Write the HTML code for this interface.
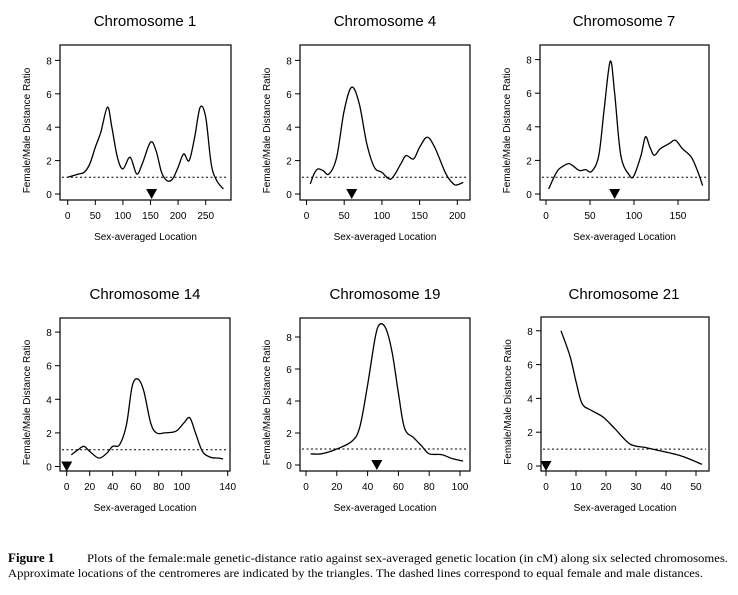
<!DOCTYPE html>
<html><head><meta charset="utf-8"><style>
html,body{margin:0;padding:0;background:#fff;}
svg{display:block;font-family:"Liberation Sans",Arial,sans-serif;}
</style></head><body>
<svg id="fig" width="738" height="595" viewBox="0 0 738 595">
<text x="8" y="562" font-family="Liberation Serif,serif" font-size="13" font-weight="bold">Figure 1</text>
<text x="87" y="562" font-family="Liberation Serif,serif" font-size="12" textLength="641" lengthAdjust="spacingAndGlyphs">Plots of the female:male genetic-distance ratio against sex-averaged genetic location (in cM) along six selected chromosomes.</text>
<text x="8" y="577" font-family="Liberation Serif,serif" font-size="12" textLength="695" lengthAdjust="spacingAndGlyphs">Approximate locations of the centromeres are indicated by the triangles. The dashed lines correspond to equal female and male distances.</text>
</svg>
<script>
const titles=["Chromosome 1","Chromosome 4","Chromosome 7","Chromosome 14","Chromosome 19","Chromosome 21"];
const xs1=[0,10,20,30,40,50,60,72,80,90,100,113,125,135,150,160,170,180,190,200,210,220,230,240,250,260,270,282];
const ys1=[1.0,1.1,1.2,1.3,1.8,2.8,3.7,5.2,4.0,2.2,1.5,2.2,1.2,1.8,3.1,2.6,1.3,0.8,0.9,1.6,2.4,2.0,3.4,5.2,4.6,1.8,0.8,0.3];
const xs4=[5,10,15,22,30,40,50,60,70,80,90,100,112,125,132,142,150,160,170,185,195,200,208];
const ys4=[0.6,1.2,1.5,1.4,1.2,2.2,5.0,6.4,5.4,3.0,1.6,1.3,0.9,1.8,2.3,2.1,2.8,3.4,2.8,1.2,0.6,0.55,0.7];
const xs7=[3,10,15,25,30,38,45,52,60,66,73,78,85,95,100,108,113,118,123,130,140,147,155,165,172,178];
const ys7=[0.3,1.1,1.5,1.8,1.7,1.4,1.45,1.35,2.3,5.0,7.9,6.0,2.3,1.1,1.1,2.3,3.4,2.8,2.3,2.7,3.0,3.2,2.7,2.2,1.4,0.5];
const xs14=[4,10,15,20,28,35,40,46,52,57,62,67,73,78,85,95,102,107,112,118,125,132,136];
const ys14=[0.7,1.0,1.2,0.9,0.5,0.8,1.2,1.3,2.5,4.8,5.2,4.5,2.6,2.0,2.0,2.1,2.6,2.9,2.0,0.9,0.55,0.5,0.45];
const xs19=[3,10,20,30,35,40,45,48,52,56,60,64,70,75,80,88,95,102];
const ys19=[0.7,0.7,1.0,1.5,2.4,5.0,8.0,8.8,8.5,7.0,4.5,2.3,1.7,1.2,0.7,0.65,0.4,0.25];
const xs21=[5,8,10,12,15,19,23,28,33,38,45,52];
const ys21=[8.0,6.5,5.0,3.7,3.3,2.9,2.2,1.3,1.1,0.9,0.6,0.1];
const xTicks=[[0,50,100,150,200,250],[0,50,100,150,200],[0,50,100,150],[0,20,40,60,80,100,140],[0,20,40,60,80,100],[0,10,20,30,40,50]];
const yTicks=[0,2,4,6,8];
const centromeres=[152,60,78,0,46,0];
const allX=[xs1,xs4,xs7,xs14,xs19,xs21], allY=[ys1,ys4,ys7,ys14,ys19,ys21];
const L=[
 {bx:60,by:45,bw:171,bh:155,x0:67.7,xs:0.552,y0:194,ys:16.7,tx:145,ty:26},
 {bx:300,by:45,bw:170,bh:155,x0:306.5,xs:0.754,y0:194,ys:16.7,tx:385,ty:26},
 {bx:540,by:45,bw:169,bh:155,x0:546,xs:0.88,y0:194,ys:16.8,tx:624,ty:26},
 {bx:60,by:318,bw:170,bh:153,x0:66.7,xs:1.15,y0:466.5,ys:16.8,tx:145,ty:299},
 {bx:300,by:318,bw:170,bh:153,x0:306,xs:1.54,y0:465,ys:16.0,tx:385,ty:299},
 {bx:541,by:317,bw:168,bh:154,x0:546,xs:3.0,y0:466,ys:16.9,tx:624,ty:299}];
const NS="http://www.w3.org/2000/svg",svg=document.getElementById('fig');
function mk(t,a,p){const e=document.createElementNS(NS,t);for(const k in a)e.setAttribute(k,a[k]);(p||svg).appendChild(e);return e;}
L.forEach((l,i)=>{
 const g=mk('g',{});
 
 
 const X=v=>l.x0+v*l.xs, Y=v=>l.y0-v*l.ys;
 const t=mk('text',{x:l.tx,y:l.ty,'text-anchor':'middle','font-size':15},g);t.textContent=titles[i];
 
 
 const b=mk('rect',{x:l.bx,y:l.by,width:l.bw,height:l.bh,fill:'none',stroke:'#000','stroke-width':1.2},g);
 
 
 yTicks.forEach(v=>{mk('line',{x1:l.bx-5,x2:l.bx,y1:Y(v),y2:Y(v),stroke:'#000'},g);
  const tt=mk('text',{x:l.bx-11,y:Y(v)+4,'text-anchor':'middle','font-size':10},g);tt.textContent=v;
  
  });
 xTicks[i].forEach(v=>{mk('line',{x1:X(v),x2:X(v),y1:l.by+l.bh,y2:l.by+l.bh+5,stroke:'#000'},g);
  const tt=mk('text',{x:X(v),y:l.by+l.bh+19,'text-anchor':'middle','font-size':10},g);tt.textContent=v;
  
  });
 const xl=mk('text',{x:l.bx+l.bw/2,y:l.by+l.bh+40,'text-anchor':'middle','font-size':10},g);xl.textContent='Sex-averaged Location';
 
 
 const cy=l.by+l.bh/2+8,cx=l.bx-30;
 const yl=mk('text',{x:cx,y:cy,'text-anchor':'middle','font-size':10,transform:`rotate(-90 ${cx} ${cy})`},g);yl.textContent='Female/Male Distance Ratio';
 
 
 const d=mk('line',{x1:l.bx+2,x2:l.bx+l.bw-3,y1:Y(1),y2:Y(1),stroke:'#000','stroke-width':1,'stroke-dasharray':'2,2.5'},g);
 
 
 const px=allX[i].map(X),py=allY[i].map(Y);
 let p=`M${px[0]},${py[0]}`;
 for(let k=0;k<px.length-1;k++){const a=Math.max(k-1,0),c=Math.min(k+2,px.length-1);
  p+=` C${px[k]+(px[k+1]-px[a])/6},${py[k]+(py[k+1]-py[a])/6} ${px[k+1]-(px[c]-px[k])/6},${py[k+1]-(py[c]-py[k])/6} ${px[k+1]},${py[k+1]}`;}
 const c=mk('path',{d:p,fill:'none',stroke:'#000','stroke-width':1.3},g);
 
 
 const tx=X(centromeres[i]),ty=l.y0+3;
 const tri=mk('path',{d:`M${tx-5.5},${ty-8} L${tx+5.5},${ty-8} L${tx},${ty+2} Z`,fill:'#000'},g);
 
 
});
</script>
</body></html>
